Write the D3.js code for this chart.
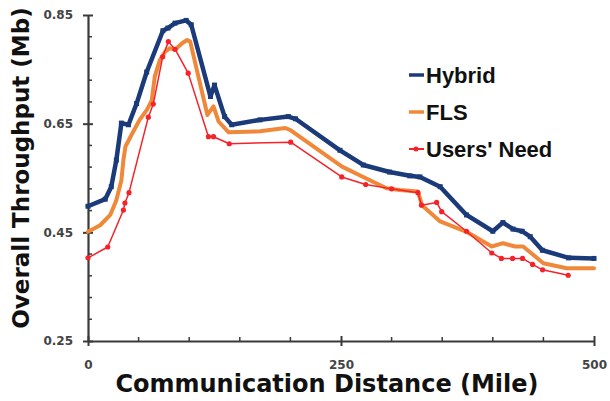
<!DOCTYPE html>
<html>
<head>
<meta charset="utf-8">
<script src="https://cdn.jsdelivr.net/npm/d3@7"></script>
<style>
  html, body { margin: 0; padding: 0; background: #fff; }
  svg { display: block; }
  text { font-family: "Liberation Sans", Arial, sans-serif; font-weight: bold; }
  .wide { font-family: "DejaVu Sans", Verdana, sans-serif; }
</style>
</head>
<body>
<svg id="chart" width="610" height="401"></svg>
<script>
// ---- data ----
const seriesNames = ["Hybrid", "FLS", "Users' Need"];

const distanceHybrid = [0, 17, 23, 28, 33, 40, 48, 58, 74, 79, 86, 97, 102, 121, 125, 135, 142, 170, 198, 205, 249, 272, 298, 318, 328, 348, 374, 400, 410, 420, 429, 437, 449, 475, 500];
const hybrid = [0.498, 0.511, 0.534, 0.583, 0.651, 0.648, 0.687, 0.745, 0.821, 0.826, 0.835, 0.840, 0.832, 0.700, 0.721, 0.663, 0.648, 0.657, 0.663, 0.659, 0.601, 0.574, 0.561, 0.554, 0.552, 0.534, 0.482, 0.452, 0.468, 0.456, 0.452, 0.442, 0.417, 0.403, 0.402];

const distanceFLS = [0, 12, 22, 28, 33, 35, 37, 42, 51, 58, 63, 66, 71, 76, 81, 86, 93, 98, 101, 118, 124, 129, 139, 170, 195, 200, 251, 275, 295, 308, 326, 330, 348, 374, 399, 410, 422, 430, 450, 473, 500];
const fls = [0.451, 0.463, 0.482, 0.509, 0.546, 0.583, 0.608, 0.626, 0.657, 0.675, 0.693, 0.737, 0.767, 0.782, 0.789, 0.786, 0.798, 0.804, 0.801, 0.666, 0.682, 0.654, 0.634, 0.636, 0.642, 0.638, 0.571, 0.549, 0.531, 0.528, 0.525, 0.500, 0.470, 0.451, 0.424, 0.430, 0.424, 0.424, 0.393, 0.384, 0.384];

const distanceNeed = [0, 19.5, 35, 36.5, 40.5, 59.6, 64.5, 73.8, 79.4, 86, 99, 119, 124, 139.6, 200.3, 250.7, 274.4, 300, 326, 329.5, 344.5, 349.5, 374, 399, 408.5, 419.5, 429.4, 439.3, 449.2, 474.5];
const need = [0.403, 0.423, 0.491, 0.504, 0.523, 0.662, 0.686, 0.773, 0.801, 0.787, 0.743, 0.626, 0.626, 0.613, 0.616, 0.552, 0.538, 0.530, 0.523, 0.500, 0.505, 0.488, 0.452, 0.412, 0.402, 0.402, 0.402, 0.391, 0.381, 0.371];

const yTickValues = [0.25, 0.45, 0.65, 0.85];
const yTickLabels = ["0.25", "0.45", "0.65", "0.85"];
const xTickValues = [0, 250, 500];
const xTickLabels = ["0", "250", "500"];
const xTitle = "Communication Distance (Mile)";
const yTitle = "Overall Throughput (Mb)";

// ---- layout ----
const svg = d3.select("#chart");
const plotLeft = 88, plotRight = 594, plotTop = 15, plotBottom = 341;

const x = d3.scaleLinear().domain([0, 500]).range([plotLeft, plotRight]);
const y = d3.scaleLinear().domain([0.25, 0.85]).range([plotBottom, plotTop]);

const axisColor = "#3a3a3a";

// minor ticks
const yMinor = d3.range(0.25, 0.8501, 0.04).filter(v => !yTickValues.some(t => Math.abs(t - v) < 1e-6));
const xMinor = d3.range(0, 501, 50).filter(v => !xTickValues.includes(v));

const gY = svg.append("g").attr("transform", `translate(${plotLeft},0)`);
gY.call(d3.axisLeft(y).tickValues(yTickValues).tickFormat((d, i) => yTickLabels[i]).tickSize(0).tickPadding(15));
gY.select(".domain").attr("stroke", axisColor).attr("stroke-width", 2.2);
gY.selectAll(".tick text").attr("class", "wide").attr("fill", "#444").style("font-size", "12px").style("font-weight", "bold");
gY.selectAll(".tick").append("line").attr("x1", -5).attr("x2", 5).attr("stroke", axisColor).attr("stroke-width", 2);
gY.selectAll(".minor").data(yMinor).enter().append("line")
  .attr("x1", 0).attr("x2", 4).attr("y1", d => y(d)).attr("y2", d => y(d))
  .attr("stroke", axisColor).attr("stroke-width", 1.5);

const gX = svg.append("g").attr("transform", `translate(0,${plotBottom})`);
gX.call(d3.axisBottom(x).tickValues(xTickValues).tickFormat((d, i) => xTickLabels[i]).tickSize(0).tickPadding(19));
gX.select(".domain").attr("stroke", axisColor).attr("stroke-width", 2.2);
gX.selectAll(".tick text").attr("class", "wide").attr("fill", "#444").style("font-size", "12px").style("font-weight", "bold");
gX.selectAll(".tick").append("line").attr("y1", -5).attr("y2", 5).attr("stroke", axisColor).attr("stroke-width", 2);
gX.selectAll(".minor").data(xMinor).enter().append("line")
  .attr("x1", d => x(d)).attr("x2", d => x(d)).attr("y1", 0).attr("y2", -4)
  .attr("stroke", axisColor).attr("stroke-width", 1.5);

// titles
svg.append("text").attr("class", "wide").attr("x", 327).attr("y", 392).attr("text-anchor", "middle")
  .style("font-size", "24px").attr("fill", "#111").text(xTitle);
svg.append("text").attr("class", "wide").attr("transform", "translate(29,168) rotate(-90)").attr("text-anchor", "middle")
  .style("font-size", "23px").attr("fill", "#111").text(yTitle);

// lines
const series = [
  { name: seriesNames[0], xs: distanceHybrid, ys: hybrid, color: "#1b3a7a", width: 4.5, marker: "square" },
  { name: seriesNames[1], xs: distanceFLS, ys: fls, color: "#f0883a", width: 4, marker: "none" },
  { name: seriesNames[2], xs: distanceNeed, ys: need, color: "#f5222a", width: 1.5, marker: "circle" }
];

const line = d3.line().x(d => x(d[0])).y(d => y(d[1]));
series.forEach(s => {
  const pts = s.xs.map((d, i) => [d, s.ys[i]]);
  svg.append("path").datum(pts).attr("d", line)
    .attr("fill", "none").attr("stroke", s.color).attr("stroke-width", s.width)
    .attr("stroke-linejoin", "round").attr("stroke-linecap", "round");
  if (s.marker === "circle") {
    svg.append("g").selectAll("circle").data(pts).enter().append("circle")
      .attr("cx", d => x(d[0])).attr("cy", d => y(d[1])).attr("r", 2.6).attr("fill", s.color);
  } else if (s.marker === "square") {
    svg.append("g").selectAll("rect").data(pts).enter().append("rect")
      .attr("x", d => x(d[0]) - 2.5).attr("y", d => y(d[1]) - 2.5).attr("width", 5).attr("height", 5).attr("fill", s.color);
  }
});

// legend
const legend = svg.append("g");
series.forEach((s, i) => {
  const ly = 75 + i * 37;
  legend.append("line").attr("x1", 409).attr("x2", 424).attr("y1", ly).attr("y2", ly)
    .attr("stroke", s.color).attr("stroke-width", s.width === 1.5 ? 2 : 3.5);
  if (s.marker === "circle") legend.append("circle").attr("cx", 416).attr("cy", ly).attr("r", 2.5).attr("fill", s.color);
  legend.append("text").attr("x", 426).attr("y", ly + 7.5).style("font-size", "22px").attr("fill", "#111").text(s.name);
});
</script>
</body>
</html>
